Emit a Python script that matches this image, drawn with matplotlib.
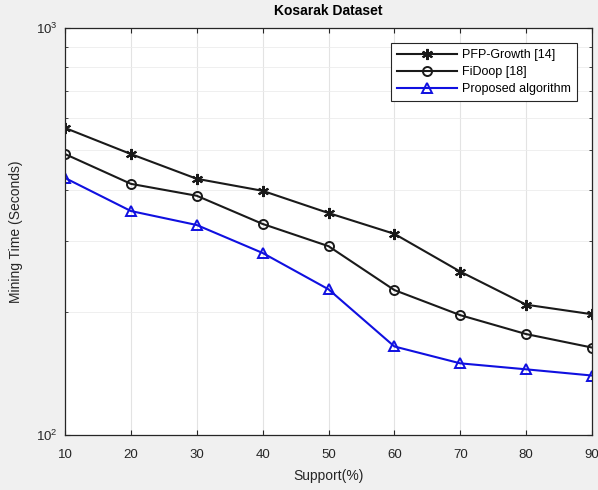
import matplotlib
matplotlib.use("Agg")
import matplotlib.pyplot as plt
from matplotlib.ticker import LogLocator, NullFormatter, FixedLocator

support = [10, 20, 30, 40, 50, 60, 70, 80, 90]
pfp_growth = [568, 490, 426, 398, 351, 312, 252, 209, 198]
fidoop = [490, 414, 387, 330, 291, 227, 197, 177, 164]
proposed = [428, 355, 328, 280, 228, 165, 150, 145, 140]

plt.rcParams["font.family"] = ["Liberation Sans", "DejaVu Sans"]

fig = plt.figure(figsize=(5.98, 4.9), dpi=100, facecolor="#f0f0f0")
ax = fig.add_axes([0.1087, 0.1122, 0.8813, 0.8308])
ax.set_facecolor("white")

# MATLAB-style asterisk marker
asterisk = (6, 2, 0)
ax.plot(support, pfp_growth, color="#1a1a1a", linewidth=1.5, marker=asterisk,
        markersize=8, markeredgewidth=1.5, label="PFP-Growth [14]")
ax.plot(support, fidoop, color="#1a1a1a", linewidth=1.5, marker="o",
        markersize=6.5, markerfacecolor="none", markeredgewidth=1.4, label="FiDoop [18]")
ax.plot(support, proposed, color="#1010e0", linewidth=1.5, marker="^",
        markersize=6.5, markerfacecolor="none", markeredgewidth=1.4,
        label="Proposed algorithm")

ax.set_yscale("log")
ax.set_ylim(100, 1000)
ax.set_xlim(10, 90)
ax.xaxis.set_major_locator(FixedLocator(support))
ax.yaxis.set_major_locator(LogLocator(base=10))
ax.yaxis.set_minor_locator(LogLocator(base=10, subs=range(2, 10)))
ax.yaxis.set_minor_formatter(NullFormatter())

ax.grid(True, which="major", color="#e3e3e3", linewidth=0.8)
ax.grid(True, which="minor", axis="y", color="#ececec", linewidth=0.6)
ax.tick_params(direction="in", which="both", top=True, right=True,
               labelsize=9.5, colors="#262626")
ax.tick_params(axis="x", pad=10)
ax.tick_params(axis="y", pad=5)
ax.tick_params(which="minor", length=2.5)
for s in ax.spines.values():
    s.set_color("#262626")
    s.set_linewidth(0.9)

ax.set_title("Kosarak Dataset", fontsize=10, fontweight="bold", pad=9)
ax.set_xlabel("Support(%)", fontsize=10, color="#262626", labelpad=6)
ax.set_ylabel("Mining Time (Seconds)", fontsize=10, color="#262626", labelpad=10)

leg = ax.legend(loc="upper right", fontsize=9, fancybox=False,
                edgecolor="#262626", framealpha=1, borderaxespad=1.2,
                handlelength=4.8, handletextpad=0.4, labelspacing=0.4,
                borderpad=0.5)
leg.get_frame().set_linewidth(0.8)

fig.savefig("out.png", dpi=100, facecolor=fig.get_facecolor())
